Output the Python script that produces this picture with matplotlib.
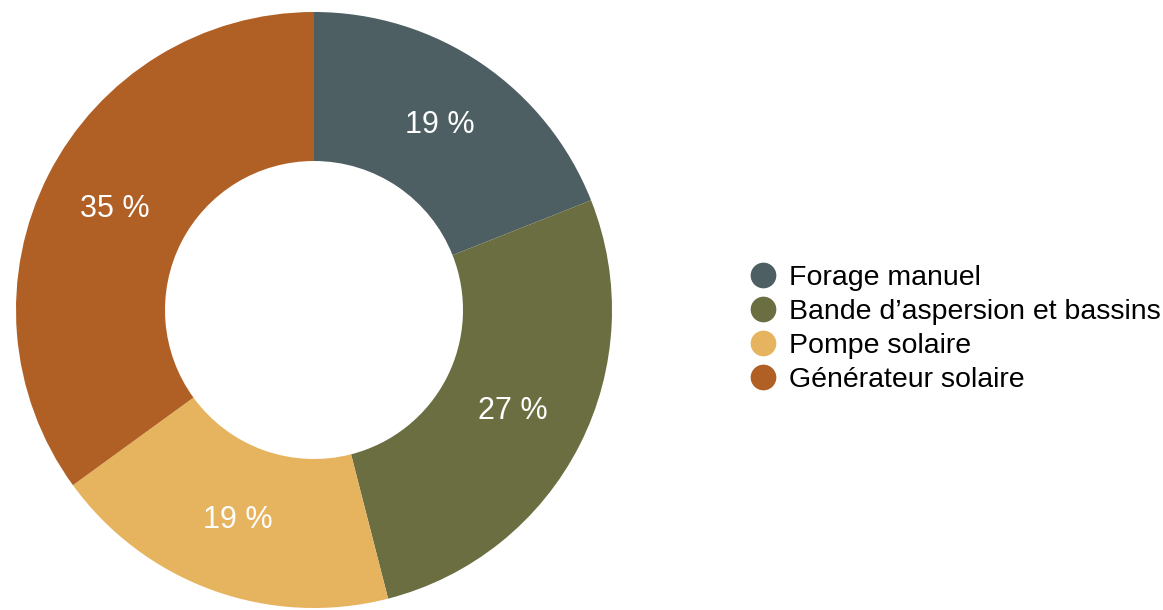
import matplotlib
matplotlib.use("Agg")
import matplotlib.pyplot as plt
from matplotlib.lines import Line2D

plt.rcParams['font.family'] = ['Liberation Sans', 'DejaVu Sans']

categories = ["Forage manuel", "Bande d\u2019aspersion et bassins", "Pompe solaire", "G\u00e9n\u00e9rateur solaire"]
values = [19, 27, 19, 35]
colors = ["#4D5F63", "#6B6E40", "#E6B35E", "#B05F25"]

W, H = 1163, 610
fig = plt.figure(figsize=(W / 100, H / 100), dpi=100)
cx, cy, r = 314, 310, 298
ax = fig.add_axes([(cx - r) / W, (H - cy - r) / H, 2 * r / W, 2 * r / H])
wedges, texts, autotexts = ax.pie(
    values, colors=colors, startangle=90, counterclock=False, radius=1,
    wedgeprops=dict(width=0.5, edgecolor='none'),
    autopct=lambda p: f"{p:.0f} %", pctdistance=0.75,
    textprops=dict(color='white', fontsize=22))
ax.set_xlim(-1, 1)
ax.set_ylim(-1, 1)
ax.set_aspect('equal')
ax.axis('off')

handles = [Line2D([0], [0], marker='o', linestyle='none', markersize=18.5,
                  markerfacecolor=c, markeredgecolor='none') for c in colors]
leg = fig.legend(handles, categories, loc='center left', bbox_to_anchor=(749 / W, 1 - 329 / H),
                 frameon=False, fontsize=20.5, handletextpad=0.4, labelspacing=0.28,
                 handlelength=1.0, borderpad=0, borderaxespad=0)

fig.savefig("out.png", dpi=100)
